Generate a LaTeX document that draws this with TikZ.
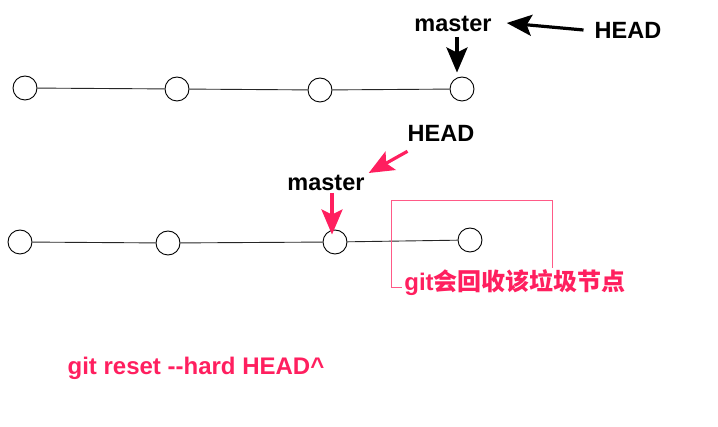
\documentclass[tikz,border=0pt]{standalone}
\usepackage{fontspec}
\setmainfont{Liberation Sans}
\newfontfamily\cjk{Noto Sans CJK SC}
\usetikzlibrary{arrows.meta}
\definecolor{hot}{HTML}{FF1F5F}
\definecolor{boxpink}{HTML}{FF5A87}
\tikzset{
  commit/.style={circle,draw=black,line width=0.9pt,minimum size=24pt,inner sep=0pt},
  link/.style={draw=black!85,line width=0.9pt},
  lbl/.style={font=\fontsize{23.5}{26}\selectfont\bfseries,inner sep=1pt},
  hotlbl/.style={lbl,text=hot},
  bigarrow/.style={line width=3.2pt,-{Stealth[length=25pt,width=21pt,inset=5pt]}},
  blackarrow/.style={bigarrow,draw=black},
  pinkarrow/.style={bigarrow,draw=hot},
}
\begin{document}
\begin{tikzpicture}[x=1pt,y=-1pt]
\useasboundingbox (0,0) rectangle (718,427);
% top row
\node[commit] (a1) at (25,88) {};
\node[commit] (a2) at (177,89) {};
\node[commit] (a3) at (320,90) {};
\node[commit] (a4) at (462,89) {};
\draw[link] (a1) -- (a2);
\draw[link] (a2) -- (a3);
\draw[link] (a3) -- (a4);
\node[lbl] (m1) at (453,24) {master};
\node[lbl] (h1) at (628,30) {HEAD};
\draw[blackarrow] ([xshift=-10pt]h1.west) -- ([xshift=14pt,yshift=1pt]m1.east);
\draw[blackarrow] ([xshift=4pt,yshift=-4pt]m1.south) -- ([xshift=-5pt,yshift=4pt]a4.north);
% bottom row
\node[commit] (b1) at (20,242) {};
\node[commit] (b2) at (168,243) {};
\node[commit] (b3) at (335,242) {};
\node[commit] (b4) at (470,240) {};
\draw[link] (b1) -- (b2);
\draw[link] (b2) -- (b3);
\draw[link] (b3) -- (b4);
\node[lbl] (m2) at (326,183) {master};
\node[lbl] (h2) at (441,133) {HEAD};
\draw[pinkarrow] ([xshift=1pt,yshift=-9pt]h2.south west) -- ([xshift=3pt,yshift=10pt]m2.east);
\draw[pinkarrow] ([xshift=6pt,yshift=-1pt]m2.south) -- ([xshift=-3pt,yshift=-5pt]b3.north);
% garbage box
\node[draw=boxpink,line width=0.9pt,minimum width=161pt,minimum height=87pt,inner sep=0pt] (gbox) at (471.5,243.5) {};
\node[hotlbl,fill=white,inner sep=2pt,font=\fontsize{24}{28}\selectfont\bfseries] (glbl) at (515,283) {git{\cjk\bfseries 会回收该垃圾节点}};
% command
\node[hotlbl,font=\fontsize{24}{28}\selectfont\bfseries] (cmd) at (196,368) {git reset -{}-hard HEAD\^{}};
\end{tikzpicture}
\end{document}
